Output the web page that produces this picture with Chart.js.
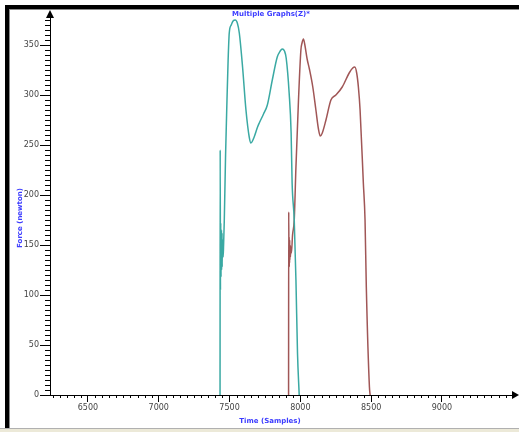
<!DOCTYPE html>
<html lang="en">
<head>
    <meta charset="UTF-8">
    <title>Multiple Graphs</title>
    <script src="https://cdn.jsdelivr.net/npm/chart.js"></script>
    <style>
        body { margin: 0; background: #fff; }
        canvas { display: block; }
    </style>
</head>
<body>
    <canvas id="forceChart" width="519" height="432"></canvas>

    <script>
        // Tick labels
        const xTicks = [6500, 7000, 7500, 8000, 8500, 9000];
        const yTicks = [0, 50, 100, 150, 200, 250, 300, 350];

        // First trial (teal)
        const tealTime = [7433, 7434, 7436, 7438, 7440, 7441, 7442, 7443, 7444, 7445, 7446, 7447,
            7448, 7449, 7450, 7452, 7455, 7458, 7463, 7472, 7482, 7490, 7498, 7512, 7525, 7540,
            7555, 7569, 7592, 7616, 7639, 7651, 7674, 7698, 7710, 7740, 7767, 7802, 7837, 7858,
            7872, 7888, 7900, 7921, 7935, 7942, 7957, 7969, 7980, 7992];
        const tealForce = [0, 245, 105, 172, 118, 160, 128, 165, 125, 155, 132, 162,
            128, 150, 138, 155, 138, 150, 175, 240, 295, 335, 362, 370, 374, 375,
            372, 362, 328, 285, 258, 252, 258, 268, 272, 281, 290, 315, 338, 344,
            346, 344, 337, 302, 262, 212, 175, 115, 42, 0];

        // Second trial (maroon)
        const maroonTime = [7917, 7918, 7920, 7921, 7922, 7923, 7924, 7925, 7926, 7928, 7930, 7933,
            7937, 7945, 7957, 7969, 7987, 8004, 8012, 8022, 8032, 8048, 8064, 8088, 8110, 8128,
            8141, 8155, 8181, 8216, 8251, 8296, 8345, 8370, 8385, 8398, 8410, 8422, 8445, 8457,
            8466, 8488, 8493];
        const maroonForce = [0, 183, 130, 158, 128, 152, 132, 155, 135, 150, 138, 148,
            142, 160, 175, 228, 295, 345, 352, 356, 350, 336, 326, 308, 285, 266,
            259, 262, 275, 295, 300, 308, 322, 327, 328, 322, 308, 285, 212, 175,
            108, 8, 0];

        const toPoints = (t, f) => t.map((v, i) => ({ x: v, y: f[i] }));

        const tickFont = { family: 'DejaVu Sans', size: 8 };
        const labelFont = 'bold 7px "DejaVu Sans"';
        const labelColor = '#3c3cff';

        // window frame, arrows, minor ticks and the blue texts
        const decorations = {
            id: 'decorations',
            beforeDraw(chart) {
                const ctx = chart.ctx;
                ctx.save();
                ctx.fillStyle = '#fff';
                ctx.fillRect(0, 0, chart.width, chart.height);
                ctx.fillStyle = '#000';
                ctx.fillRect(5, 5, chart.width - 5, 4);
                ctx.fillRect(5, 5, 4, 423);
                ctx.fillStyle = '#8a8a8a';
                ctx.fillRect(9, 9, chart.width - 9, 1);
                ctx.fillRect(9, 9, 1, 419);
                ctx.fillStyle = '#ece9d8';
                ctx.fillRect(0, 428, chart.width, 4);
                ctx.fillStyle = '#b0b0b0';
                ctx.fillRect(0, 428, chart.width, 1);
                ctx.restore();
            },
            afterDraw(chart) {
                const ctx = chart.ctx;
                const area = chart.chartArea;
                const xs = chart.scales.x;
                const ys = chart.scales.y;
                ctx.save();
                ctx.strokeStyle = '#000';
                ctx.lineWidth = 1;
                ctx.beginPath();
                for (let v = Math.ceil(xs.min / 50) * 50; v <= xs.max; v += 50) {
                    if (v % 500 === 0) continue;
                    const px = Math.round(xs.getPixelForValue(v)) + 0.5;
                    ctx.moveTo(px, area.bottom);
                    ctx.lineTo(px, area.bottom + 3);
                }
                for (let v = 5; v <= ys.max; v += 5) {
                    if (v % 50 === 0) continue;
                    const py = Math.round(ys.getPixelForValue(v)) + 0.5;
                    ctx.moveTo(area.left - 5, py);
                    ctx.lineTo(area.left, py);
                }
                ctx.stroke();

                // axis arrows
                ctx.fillStyle = '#000';
                ctx.beginPath();
                ctx.moveTo(area.left, area.top - 7);
                ctx.lineTo(area.left - 4, area.top + 1);
                ctx.lineTo(area.left + 4, area.top + 1);
                ctx.closePath();
                ctx.fill();
                ctx.beginPath();
                ctx.moveTo(area.right + 6, area.bottom);
                ctx.lineTo(area.right - 1, area.bottom - 4);
                ctx.lineTo(area.right - 1, area.bottom + 4);
                ctx.closePath();
                ctx.fill();

                // texts
                ctx.fillStyle = labelColor;
                ctx.font = labelFont;
                ctx.textAlign = 'center';
                ctx.textBaseline = 'middle';
                ctx.fillText('Multiple Graphs(Z)*', 271, 14);
                ctx.fillText('Time (Samples)', 270, 421);
                ctx.translate(20, 218);
                ctx.rotate(-Math.PI / 2);
                ctx.fillText('Force (newton)', 0, 0);
                ctx.restore();
            }
        };

        new Chart(document.getElementById('forceChart'), {
            type: 'line',
            data: {
                datasets: [{
                    label: 'Trial 1',
                    data: toPoints(tealTime, tealForce),
                    borderColor: '#3aa9a3',
                    borderWidth: 1.5,
                    pointRadius: 0,
                    cubicInterpolationMode: 'monotone'
                }, {
                    label: 'Trial 2',
                    data: toPoints(maroonTime, maroonForce),
                    borderColor: '#a05656',
                    borderWidth: 1.5,
                    pointRadius: 0,
                    cubicInterpolationMode: 'monotone'
                }]
            },
            options: {
                responsive: false,
                animation: false,
                layout: { padding: { left: 10, top: 17, right: 6, bottom: 0 } },
                plugins: {
                    legend: { display: false },
                    tooltip: { enabled: false }
                },
                scales: {
                    x: {
                        type: 'linear',
                        min: 6232,
                        max: 9502,
                        afterBuildTicks: s => { s.ticks = xTicks.map(v => ({ value: v })); },
                        afterFit: s => { s.height = 37; },
                        ticks: {
                            font: tickFont,
                            color: '#444',
                            padding: 1,
                            maxRotation: 0,
                            autoSkip: false,
                            callback: v => String(v)
                        },
                        grid: { drawOnChartArea: false, tickLength: 7, tickColor: '#000' },
                        border: { color: '#000', width: 1 }
                    },
                    y: {
                        min: 0,
                        max: 378,
                        afterBuildTicks: s => { s.ticks = yTicks.map(v => ({ value: v })); },
                        afterFit: s => { s.width = 40; },
                        ticks: {
                            font: tickFont,
                            color: '#444',
                            padding: 1,
                            autoSkip: false,
                            callback: v => String(v)
                        },
                        grid: { drawOnChartArea: false, tickLength: 10, tickColor: '#000' },
                        border: { color: '#000', width: 1 }
                    }
                }
            },
            plugins: [decorations]
        });
    </script>
</body>
</html>
